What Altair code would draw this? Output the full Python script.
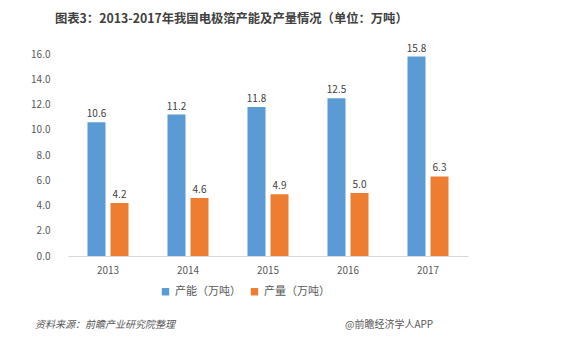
import altair as alt
import pandas as pd

years = ["2013", "2014", "2015", "2016", "2017"]
capacity = [10.6, 11.2, 11.8, 12.5, 15.8]
output = [4.2, 4.6, 4.9, 5.0, 6.3]
series_names = ["产能（万吨）", "产量（万吨）"]
colors = ["#5B9BD5", "#ED7D31"]
y_ticks = [0, 2, 4, 6, 8, 10, 12, 14, 16]
title_text = "图表3：2013-2017年我国电极箔产能及产量情况（单位：万吨）"
source_text = "资料来源：前瞻产业研究院整理"
brand_text = "@前瞻经济学人APP"

FONT = "Noto Sans CJK SC"

rows = []
for y, c, o in zip(years, capacity, output):
    rows.append({"year": y, "series": series_names[0], "value": c})
    rows.append({"year": y, "series": series_names[1], "value": o})
df = pd.DataFrame(rows)

x_enc = alt.X("year:N", title=None,
              scale=alt.Scale(paddingInner=0.4875, paddingOuter=0.24375),
              axis=alt.Axis(labelAngle=0, ticks=False, domainColor="#D9D9D9",
                            labelColor="#595959", labelFontSize=10, labelFont=FONT,
                            labelPadding=9))
xoff = alt.XOffset("series:N", sort=series_names,
                   scale=alt.Scale(paddingInner=0.2174, paddingOuter=0))
y_enc = alt.Y("value:Q", title=None,
              scale=alt.Scale(domain=[0, 16], nice=False),
              axis=alt.Axis(values=y_ticks, format=".1f", tickCount=9,
                            grid=False, domain=False, ticks=False, labelOverlap=False,
                            labelColor="#595959", labelFontSize=10, labelFont=FONT,
                            labelPadding=18))

bars = alt.Chart(df).mark_bar().encode(
    x=x_enc, xOffset=xoff, y=y_enc,
    color=alt.Color("series:N", sort=series_names,
                    scale=alt.Scale(domain=series_names, range=colors),
                    legend=alt.Legend(title=None, orient="none", direction="horizontal",
                                      legendX=92, legendY=232, symbolType="square",
                                      symbolSize=55, labelFontSize=11, labelFont=FONT,
                                      labelColor="#595959", columnPadding=8,
                                      symbolStrokeWidth=0))
)

labels = alt.Chart(df).mark_text(dy=-8, fontSize=10, color="#404040", font=FONT).encode(
    x=x_enc, xOffset=xoff, y=y_enc,
    text=alt.Text("value:Q", format=".1f")
)

title_df = pd.DataFrame({"t": [title_text]})
title = alt.Chart(title_df).mark_text(align="left", baseline="middle", fontSize=12.3,
                                      fontWeight="bold", color="#404040", font=FONT).encode(
    x=alt.value(-13), y=alt.value(-35), text="t:N")

src_df = pd.DataFrame({"t": [source_text]})
src = alt.Chart(src_df).mark_text(align="left", baseline="middle", fontSize=10,
                                  fontStyle="italic", color="#595959", font=FONT).encode(
    x=alt.value(-33), y=alt.value(271), text="t:N")

brand_df = pd.DataFrame({"t": [brand_text]})
brand = alt.Chart(brand_df).mark_text(align="left", baseline="middle", fontSize=10,
                                      color="#595959", font=FONT).encode(
    x=alt.value(277), y=alt.value(271), text="t:N")

chart = alt.layer(bars, labels, title, src, brand).properties(
    width=400, height=202,
    autosize=alt.AutoSizeParams(type="none"),
    padding={"left": 68, "top": 54, "right": 96, "bottom": 101},
    background="white"
).configure_view(stroke=None)

chart.save("out.html", embed_options={"renderer": "svg", "actions": False})
